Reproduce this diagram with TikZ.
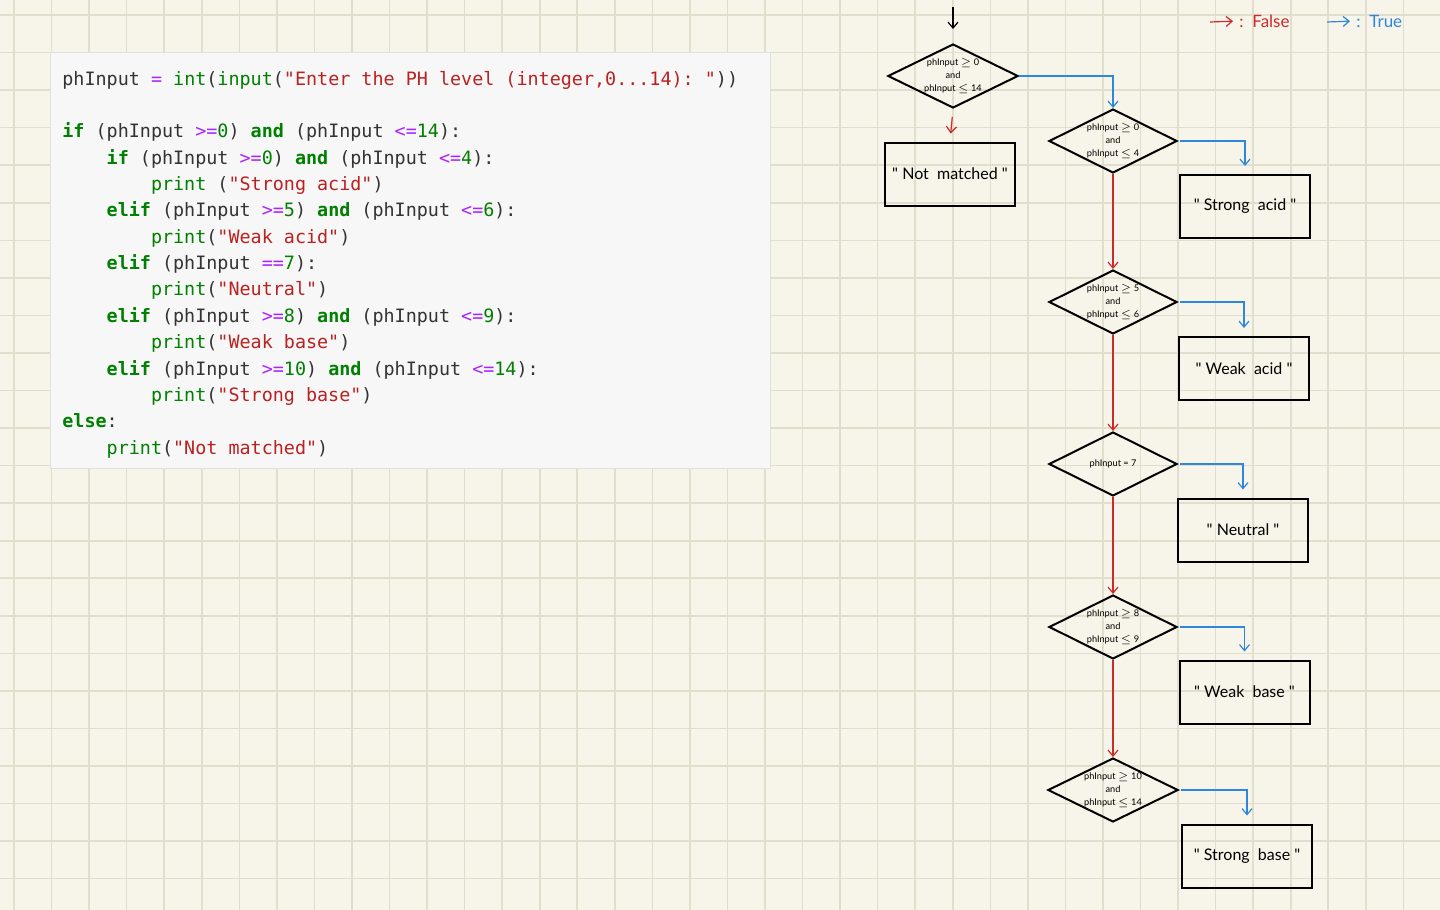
\documentclass[tikz,border=0pt]{standalone}
\usepackage{fontspec}
\usetikzlibrary{shapes.geometric,arrows.meta}

\newfontfamily\codefont{DejaVu Sans Mono}
\newfontfamily\flowfont{Lato}

\definecolor{paper}{RGB}{247,244,233}
\definecolor{gridcol}{RGB}{226,222,206}
\definecolor{panel}{RGB}{247,247,247}
\definecolor{panelrule}{RGB}{224,224,224}
\definecolor{codetext}{RGB}{51,51,51}
\definecolor{pygreen}{RGB}{0,128,0}
\definecolor{pystring}{RGB}{186,33,33}
\definecolor{pypurple}{RGB}{170,34,255}
\definecolor{falsered}{RGB}{205,42,42}
\definecolor{trueblue}{RGB}{45,135,220}

% python highlighting
\newcommand{\pykw}[1]{{\bfseries\color{pygreen}#1}}
\newcommand{\pyfn}[1]{{\color{pygreen}#1}}
\newcommand{\pynum}[1]{{\color{pygreen}#1}}
\newcommand{\pyop}[1]{{\color{pypurple}#1}}
\newcommand{\pystr}[1]{{\color{pystring}#1}}

\tikzset{
  gridline/.style={gridcol, line width=0.8pt},
  codeline/.style={anchor=base west, inner sep=0pt, text=codetext,
    font=\codefont\fontsize{9.2pt}{11pt}\selectfont\frenchspacing},
  decision/.style={diamond, draw, line width=1pt, aspect=2.1, inner sep=0pt,
    minimum width=64pt, minimum height=32pt, align=center,
    font=\flowfont\fontsize{4.6pt}{6.3pt}\selectfont},
  outbox/.style={rectangle, draw, line width=1pt, minimum width=65pt,
    minimum height=31.5pt, font=\flowfont\fontsize{8pt}{10pt}\selectfont},
  legendlbl/.style={anchor=west, inner sep=1pt,
    font=\flowfont\fontsize{8.5pt}{10pt}\selectfont},
  arrowline/.style={line width=0.6pt, -{Straight Barb[length=3pt,width=5pt]}},
  falsearrow/.style={arrowline, falsered},
  truearrow/.style={arrowline, trueblue},
}

\begin{document}
\begin{tikzpicture}[x=0.5pt, y=-0.5pt]
    % Paper and grid
    \useasboundingbox (0,0) rectangle (1440,910);
    \fill[paper] (0,0) rectangle (1440,910);
    \foreach \i in {0,...,37}
        \draw[gridline] ({14+37.55*\i},0) -- ({14+37.55*\i},910);
    \foreach \j in {0,...,23}
        \draw[gridline] (0,{15+37.55*\j}) -- (1440,{15+37.55*\j});

    % Code panel
    \fill[panel, draw=panelrule, line width=0.5pt] (50,52) rectangle (770,468);
    \node[codeline] (ln1)  at (62,85)    {phInput \pyop{=} \pyfn{int}(\pyfn{input}(\pystr{"Enter the PH level (integer,0...14): "}))};
    \node[codeline] (ln3)  at (62,137.7) {\pykw{if} (phInput \pyop{>=}\pynum{0}) \pykw{and} (phInput \pyop{<=}\pynum{14}):};
    \node[codeline] (ln4)  at (106.3,164.1) {\pykw{if} (phInput \pyop{>=}\pynum{0}) \pykw{and} (phInput \pyop{<=}\pynum{4}):};
    \node[codeline] (ln5)  at (150.6,190.4) {\pyfn{print} (\pystr{"Strong acid"})};
    \node[codeline] (ln6)  at (106.3,216.8) {\pykw{elif} (phInput \pyop{>=}\pynum{5}) \pykw{and} (phInput \pyop{<=}\pynum{6}):};
    \node[codeline] (ln7)  at (150.6,243.2) {\pyfn{print}(\pystr{"Weak acid"})};
    \node[codeline] (ln8)  at (106.3,269.5) {\pykw{elif} (phInput \pyop{==}\pynum{7}):};
    \node[codeline] (ln9)  at (150.6,295.9) {\pyfn{print}(\pystr{"Neutral"})};
    \node[codeline] (ln10) at (106.3,322.2) {\pykw{elif} (phInput \pyop{>=}\pynum{8}) \pykw{and} (phInput \pyop{<=}\pynum{9}):};
    \node[codeline] (ln11) at (150.6,348.6) {\pyfn{print}(\pystr{"Weak base"})};
    \node[codeline] (ln12) at (106.3,375.0) {\pykw{elif} (phInput \pyop{>=}\pynum{10}) \pykw{and} (phInput \pyop{<=}\pynum{14}):};
    \node[codeline] (ln13) at (150.6,401.3) {\pyfn{print}(\pystr{"Strong base"})};
    \node[codeline] (ln14) at (62,427.7)    {\pykw{else}:};
    \node[codeline] (ln15) at (106.3,454.0) {\pyfn{print}(\pystr{"Not matched"})};

    % Legend
    \coordinate (falsetail) at (1210,22);
    \node[legendlbl, text=falsered] (falselbl) at (1237,21) {:\ \ False};
    \draw[falsearrow, shorten >=2pt] (falsetail) -- (falselbl.west);
    \coordinate (truetail) at (1327,22);
    \node[legendlbl, text=trueblue] (truelbl) at (1354,21) {:\ \ True};
    \draw[truearrow, shorten >=2pt] (truetail) -- (truelbl.west);

    % Decisions
    \node[decision] (chkrange)      at (953,76)  {phInput $\geq$ 0\\and\\phInput $\leq$ 14};
    \node[decision] (chkstrongacid) at (1113,141) {phInput $\geq$ 0\\and\\phInput $\leq$ 4};
    \node[decision] (chkweakacid)   at (1113,302) {phInput $\geq$ 5\\and\\phInput $\leq$ 6};
    \node[decision] (chkneutral)    at (1113,464) {phInput = 7};
    \node[decision] (chkweakbase)   at (1113,627) {phInput $\geq$ 8\\and\\phInput $\leq$ 9};
    \node[decision] (chkstrongbase) at (1113,790) {phInput $\geq$ 10\\and\\phInput $\leq$ 14};

    % Outputs
    \node[outbox] (notmatched) at (950,174)    {"\ Not\ \ matched\ "};
    \node[outbox] (strongacid) at (1245,206.5) {"\ Strong\ \ acid\ "};
    \node[outbox] (weakacid)   at (1244,368.5) {"\ Weak\ \ acid\ "};
    \node[outbox] (neutral)    at (1243,530)   {"\ Neutral\ "};
    \node[outbox] (weakbase)   at (1244.5,692) {"\ Weak\ \ base\ "};
    \node[outbox] (strongbase) at (1247,856)   {"\ Strong\ \ base\ "};

    % Connectors
    \coordinate (entry) at (953,7);
    \draw[arrowline, shorten >=7pt] (entry) -- (chkrange.north);
    \draw[falsearrow, shorten <=4pt, shorten >=4pt] (chkrange.south) -- (notmatched.north);
    \draw[truearrow] (chkrange.east) -| (chkstrongacid.north);
    \foreach \a/\b in {chkstrongacid/chkweakacid, chkweakacid/chkneutral,
                       chkneutral/chkweakbase, chkweakbase/chkstrongbase}
        \draw[falsearrow] (\a.south) -- (\b.north);
    \foreach \a/\b in {chkstrongacid/strongacid, chkweakacid/weakacid, chkneutral/neutral,
                       chkweakbase/weakbase, chkstrongbase/strongbase}
        \draw[truearrow, shorten <=1pt, shorten >=4pt] (\a.east) -| (\b.north);
\end{tikzpicture}
\end{document}
